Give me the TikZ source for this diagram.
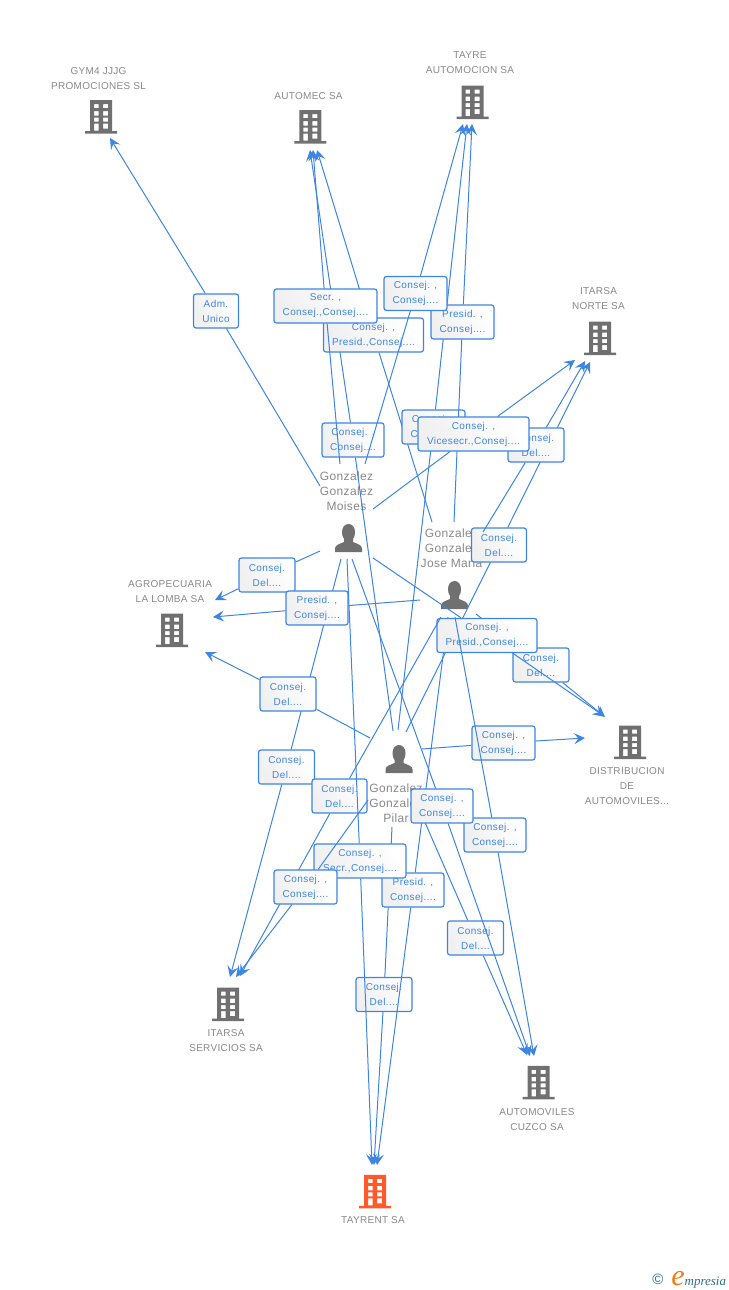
\documentclass[tikz,border=0pt]{standalone}
\usepackage{fontspec}
\setmainfont{Liberation Sans}
\newfontfamily\boxfont[LetterSpace=4]{Liberation Sans}
\newfontfamily\labelfont[LetterSpace=3]{Liberation Sans}
\newfontfamily\logofont{Liberation Serif}
\usetikzlibrary{arrows.meta}
\definecolor{linkblue}{RGB}{61,133,226}
\definecolor{iconfill}{RGB}{112,112,112}
\definecolor{labelgrey}{RGB}{136,136,136}
\definecolor{redfirm}{RGB}{255,90,43}
\definecolor{logoteal}{RGB}{45,110,135}
\definecolor{logoorange}{RGB}{240,125,20}
\tikzset{every picture/.style={line width=0.75pt}}
\tikzset{
  rolebox/.style={draw=linkblue,line width=1.2pt,rounded corners=2.5pt,left color=white,right color=black!6,shading angle=-60,
    text=linkblue,font=\boxfont\fontsize{10}{15}\selectfont,align=center,inner sep=0pt,minimum width=#1,minimum height=34},
  rolebox/.default=56,
  link/.style={draw=linkblue,line width=1pt},
  linkto/.style={link,-{Stealth[length=11pt,width=11pt,inset=4.5pt]}},
  firmlabel/.style={text=labelgrey,font=\labelfont\fontsize{10}{15}\selectfont,align=center,inner sep=0pt},
  personlabel/.style={text=labelgrey,font=\labelfont\fontsize{12}{15}\selectfont,align=center,inner sep=0pt},
  pics/building/.style={code={
    \fill [#1,even odd rule] (-16,0) -- (16,0) -- (16,2.5) -- (11,2.5) -- (11,33.5) -- (-11,33.5) -- (-11,2.5) -- (-16,2.5) -- cycle
      (-7,29.5) rectangle (-2.5,25.5) (2,29.5) rectangle (7,25.5)
      (-7,22.5) rectangle (-2.5,18) (2,22.5) rectangle (7,18)
      (-7,16) rectangle (-2.5,12) (2,16) rectangle (7,12)
      (-7,10) rectangle (-2.5,3) (2,10) rectangle (7,5);
  }},
  pics/person/.style={code={
    \fill [iconfill] (-13.5,0) -- (-13.5,3.5) .. controls (-13.5,7) and (-9,8) .. (-4.5,10) -- (-4.5,13) .. controls (-6,15) and (-6.5,17) .. (-6.5,20)
      .. controls (-6.5,25) and (-3.5,28) .. (0,28) .. controls (3.5,28) and (6.5,25) .. (6.5,20) .. controls (6.5,17) and (6,15) .. (4.5,13)
      -- (4.5,10) .. controls (9,8) and (13.5,7) .. (13.5,3.5) -- (13.5,0) -- cycle;
  }}
}
\begin{document}
\begin{tikzpicture}[x=1pt,y=1pt,yscale=-1,xscale=1]
\useasboundingbox (0,0) rectangle (728,1290);

%Persons
\pic at (348.5,552) {person};
\pic at (454.5,609) {person};
\pic at (399,773) {person};
\node [personlabel] (moises) at (346.5,491) {Gonzalez\\Gonzalez\\Moises};
\node [personlabel] (josemaria) at (451.5,548) {Gonzalez\\Gonzalez\\Jose Maria};
\node [personlabel] (pilar) at (396,803) {Gonzalez\\Gonzalez\\Pilar};

%Companies
\pic at (101,133.7) {building=iconfill};
\pic at (310.3,143.7) {building=iconfill};
\pic at (472.5,119) {building=iconfill};
\pic at (600,355) {building=iconfill};
\pic at (172,647) {building=iconfill};
\pic at (630,759) {building=iconfill};
\pic at (228,1021) {building=iconfill};
\pic at (538.7,1099.3) {building=iconfill};
\pic at (375,1208.3) {building=redfirm};
\node [firmlabel] (gym) at (98.5,78.5) {GYM4 JJJG\\PROMOCIONES SL};
\node [firmlabel] (automec) at (308.5,96) {AUTOMEC SA};
\node [firmlabel] (tayre) at (470,62.5) {TAYRE\\AUTOMOCION SA};
\node [firmlabel] (norte) at (598.5,298.5) {ITARSA\\NORTE SA};
\node [firmlabel] (lomba) at (170,591.5) {AGROPECUARIA\\LA LOMBA SA};
\node [firmlabel] (distrib) at (627,786) {DISTRIBUCION\\DE\\AUTOMOVILES...};
\node [firmlabel] (servicios) at (226,1040.5) {ITARSA\\SERVICIOS SA};
\node [firmlabel] (cuzco) at (537,1119.5) {AUTOMOVILES\\CUZCO SA};
\node [firmlabel] (tayrent) at (373,1220) {TAYRENT SA};

%Line ends at the persons
\coordinate (mGym) at (320,486);
\coordinate (mAut) at (340,464);
\coordinate (mTay) at (365,464);
\coordinate (mNor) at (373,509);
\coordinate (mAgr) at (320,551);
\coordinate (mDis) at (373,558);
\coordinate (mSer) at (341,559);
\coordinate (mTnt) at (347,559);
\coordinate (mCuz) at (352,559);
\coordinate (jAut) at (432,522);
\coordinate (jTay) at (454,522);
\coordinate (jNor) at (483,532);
\coordinate (jAgr) at (420,600);
\coordinate (jDis) at (476,614);
\coordinate (jSer) at (441,617);
\coordinate (jTnt) at (448,617);
\coordinate (jCuz) at (455,617);
\coordinate (pAut) at (393,731);
\coordinate (pTay) at (398,730);
\coordinate (pNor) at (406,732);
\coordinate (pAgr) at (370,738);
\coordinate (pDis) at (422,749);
\coordinate (pSer) at (368,800);
\coordinate (pTnt) at (392,827);
\coordinate (pCuz) at (413,795);
%Line ends at the companies
\coordinate (gymTip) at (110,138);
\coordinate (autTipA) at (310,150);
\coordinate (autTipB) at (313,150);
\coordinate (autTipC) at (317,150);
\coordinate (tayTipA) at (463,124);
\coordinate (tayTipB) at (467,124);
\coordinate (tayTipC) at (472,124);
\coordinate (norTipA) at (575,360);
\coordinate (norTipB) at (585,361);
\coordinate (norTipC) at (590,362);
\coordinate (agrTipA) at (215,600);
\coordinate (agrTipB) at (213,617);
\coordinate (agrTipC) at (205,652);
\coordinate (disTipA) at (604,716);
\coordinate (disTipB) at (605,717);
\coordinate (disTipC) at (585,738);
\coordinate (serTipA) at (230,977);
\coordinate (serTipB) at (236,977);
\coordinate (serTipC) at (240,976);
\coordinate (cuzTipA) at (527,1055);
\coordinate (cuzTipB) at (530,1056);
\coordinate (cuzTipC) at (534,1056);
\coordinate (tntTipA) at (372,1165);
\coordinate (tntTipB) at (374,1165);
\coordinate (tntTipC) at (377,1165);

%Roles, each one over the lines drawn before it
\node [rolebox=45] (admGym) at (216,311) {Adm.\\Unico};
\draw [link] (mGym) -- (admGym);
\draw [linkto] (admGym) -- (gymTip);

\node [rolebox] (delSerM) at (286.5,767) {Consej.\\Del....};
\draw [link] (mSer) -- (delSerM);
\draw [linkto] (delSerM) -- (serTipA);

\node [rolebox] (delAgrM) at (267,575) {Consej.\\Del....};
\draw [link] (mAgr) -- (delAgrM);
\draw [linkto] (delAgrM) -- (agrTipA);

\node [rolebox=62] (preAgrJ) at (317,608) {Presid. ,\\Consej....};
\draw [link] (jAgr) -- (preAgrJ);
\draw [linkto] (preAgrJ) -- (agrTipB);

\node [rolebox] (delAgrP) at (288,694) {Consej.\\Del....};
\draw [link] (pAgr) -- (delAgrP);
\draw [linkto] (delAgrP) -- (agrTipC);

\node [rolebox=62] (conAutP) at (353,440) {Consej. ,\\Consej....};
\draw [link] (pAut) -- (conAutP);
\draw [linkto] (conAutP) -- (autTipA);

\node [rolebox=100] (preAutJ) at (373.5,335) {Consej. ,\\Presid.,Consej....};
\draw [link] (jAut) -- (preAutJ);
\draw [linkto] (preAutJ) -- (autTipC);

\node [rolebox=103] (secAutM) at (325.5,306) {Secr. ,\\Consej.,Consej....};
\draw [link] (mAut) -- (secAutM);
\draw [linkto] (secAutM) -- (autTipB);

\node [rolebox=63] (conTayP) at (433.5,427) {Consej. ,\\Consej....};
\draw [link] (pTay) -- (conTayP);
\draw [linkto] (conTayP) -- (tayTipB);

\node [rolebox=63] (preTayJ) at (462.5,322) {Presid. ,\\Consej....};
\draw [link] (jTay) -- (preTayJ);
\draw [linkto] (preTayJ) -- (tayTipC);

\node [rolebox=63] (conTayM) at (415.5,293.5) {Consej. ,\\Consej....};
\draw [link] (mTay) -- (conTayM);
\draw [linkto] (conTayM) -- (tayTipA);

\node [rolebox=55] (delNorP) at (499,545) {Consej.\\Del....};
\draw [link] (pNor) -- (delNorP);
\draw [linkto] (delNorP) -- (norTipC);

\node [rolebox] (delNorJ) at (536,445) {Consej.\\Del....};
\draw [link] (jNor) -- (delNorJ);
\draw [linkto] (delNorJ) -- (norTipB);

\node [rolebox=111] (vicNorM) at (473.5,434) {Consej. ,\\Vicesecr.,Consej....};
\draw [link] (mNor) -- (vicNorM);
\draw [linkto] (vicNorM) -- (norTipA);

\node [rolebox] (delTntP) at (384,994.5) {Consej.\\Del....};
\draw [link] (pTnt) -- (delTntP);
\draw [linkto] (delTntP) -- (tntTipB);

\node [rolebox=62] (preTntJ) at (413,890) {Presid. ,\\Consej....};
\draw [link] (jTnt) -- (preTntJ);
\draw [linkto] (preTntJ) -- (tntTipC);

\node [rolebox] (delDisJ) at (541,665) {Consej.\\Del....};
\draw [link] (jDis) -- (delDisJ);
\draw [linkto] (delDisJ) -- (disTipB);

\node [rolebox=100] (preDisM) at (487,635.5) {Consej. ,\\Presid.,Consej....};
\draw [link] (mDis) -- (preDisM);
\draw [linkto] (preDisM) -- (disTipA);

\node [rolebox=63] (conDisP) at (503.5,743) {Consej. ,\\Consej....};
\draw [link] (pDis) -- (conDisP);
\draw [linkto] (conDisP) -- (disTipC);

\node [rolebox=55] (delSerJ) at (339.5,796) {Consej.\\Del....};
\draw [link] (jSer) -- (delSerJ);
\draw [linkto] (delSerJ) -- (serTipC);

\node [rolebox=92] (secTntM) at (360,861) {Consej. ,\\Secr.,Consej....};
\draw [link] (mTnt) -- (secTntM);
\draw [linkto] (secTntM) -- (tntTipA);

\node [rolebox=63] (conSerP) at (305.5,887) {Consej. ,\\Consej....};
\draw [link] (pSer) -- (conSerP);
\draw [linkto] (conSerP) -- (serTipB);

\node [rolebox=62] (conCuzJ) at (495,835) {Consej. ,\\Consej....};
\draw [link] (jCuz) -- (conCuzJ);
\draw [linkto] (conCuzJ) -- (cuzTipC);

\node [rolebox] (delCuzP) at (475.5,938) {Consej.\\Del....};
\draw [link] (pCuz) -- (delCuzP);
\draw [linkto] (delCuzP) -- (cuzTipA);

\node [rolebox=62] (conCuzM) at (442,806) {Consej. ,\\Consej....};
\draw [link] (mCuz) -- (conCuzM);
\draw [linkto] (conCuzM) -- (cuzTipB);

%Logo
\node [inner sep=0pt,anchor=center,text=logoteal,font=\fontsize{15}{15}\selectfont] (copyright) at (658,1279) {©};
\node [inner sep=0pt,anchor=base west,font=\logofont\itshape] (logo) at (671,1285) {\textcolor{logoorange}{\fontsize{30}{30}\selectfont e}\textcolor{logoteal}{\fontsize{13}{14}\selectfont mpresia}};
\end{tikzpicture}
\end{document}
